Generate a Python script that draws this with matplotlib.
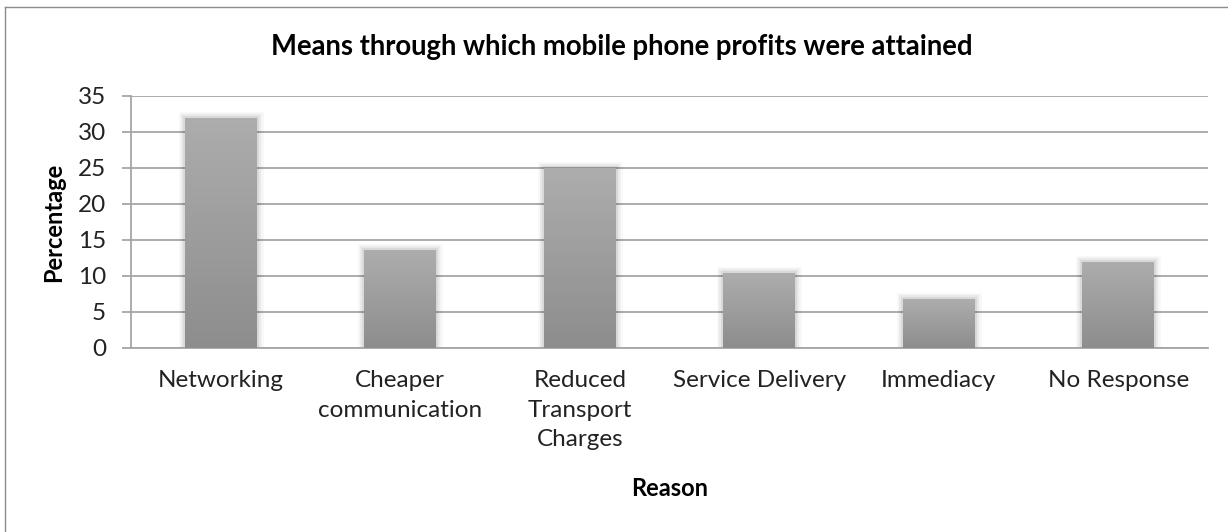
import matplotlib.pyplot as plt
import matplotlib.patheffects as pe
import numpy as np
from matplotlib.lines import Line2D

plt.rcParams['font.family'] = ['Lato', 'DejaVu Sans']

reasons = ['Networking', 'Cheaper\ncommunication', 'Reduced\nTransport\nCharges',
           'Service Delivery', 'Immediacy', 'No Response']
percentages = [32, 13.6, 25, 10.4, 6.8, 12]
y_ticks = [0, 5, 10, 15, 20, 25, 30, 35]

W, H = 1228, 532
fig = plt.figure(figsize=(W / 100, H / 100), dpi=100)
ax = fig.add_axes([131 / W, 1 - 348 / H, 1077 / W, 252 / H])

grid_color = '#a6a6a6'
text_color = '#222222'
x = np.arange(len(reasons))
bars = ax.bar(x, percentages, width=0.4, color='#9c9c9c', zorder=2,
              linewidth=0)

# vertical grey gradient per bar, light at the top
grad = np.linspace(0, 1, 256).reshape(-1, 1)
cmap = plt.matplotlib.colors.LinearSegmentedColormap.from_list(
    'bar', ['#8d8d8d', '#adadad'])
for bar in bars:
    bar.set_path_effects([
        pe.Stroke(linewidth=9, foreground='#000000', alpha=0.03),
        pe.Stroke(linewidth=6, foreground='#000000', alpha=0.05),
        pe.Stroke(linewidth=3, foreground='#000000', alpha=0.07),
        pe.Normal()])
    x0, w, h = bar.get_x(), bar.get_width(), bar.get_height()
    im = ax.imshow(grad, extent=[x0, x0 + w, 0, h], origin='lower',
                   cmap=cmap, aspect='auto', zorder=3)
    im.set_clip_path(bar)

ax.set_xlim(-0.5, len(reasons) - 0.5)
ax.set_ylim(0, 35)
ax.set_yticks(y_ticks)
ax.set_xticks(x)
ax.set_xticklabels(reasons, linespacing=1.5)
ax.yaxis.grid(True, color=grid_color, linewidth=1.3, zorder=0)
ax.set_axisbelow(True)

for side in ['top', 'right']:
    ax.spines[side].set_visible(False)
for side in ['left', 'bottom']:
    ax.spines[side].set_color(grid_color)
    ax.spines[side].set_linewidth(1.3)

ax.tick_params(axis='y', length=6.5, color=grid_color, width=1.3,
               labelsize=17.5, labelcolor=text_color, pad=11.5)
ax.tick_params(axis='x', length=0, labelsize=17.5, labelcolor=text_color, pad=16)

ax.set_ylabel('Percentage', fontsize=17, fontweight='bold', va='center')
ax.yaxis.set_label_coords((54 - 131) / 1077, 0.5)
ax.set_xlabel('Reason', fontsize=17, fontweight='bold', va='center')
ax.xaxis.set_label_coords(0.5, (348 - 488) / 252)
fig.text(622 / W, 1 - 47 / H, 'Means through which mobile phone profits were attained',
         ha='center', va='center', fontsize=19.8, fontweight='bold')

# chart frame, clipped on the right and bottom
fig.add_artist(Line2D([5 / W, 5 / W], [0, 1 - 7 / H],
                      transform=fig.transFigure, color='#8c8c8c', linewidth=1))
fig.add_artist(Line2D([5 / W, 1], [1 - 7 / H, 1 - 7 / H],
                      transform=fig.transFigure, color='#8c8c8c', linewidth=1))

fig.savefig('out.png', dpi=100)
